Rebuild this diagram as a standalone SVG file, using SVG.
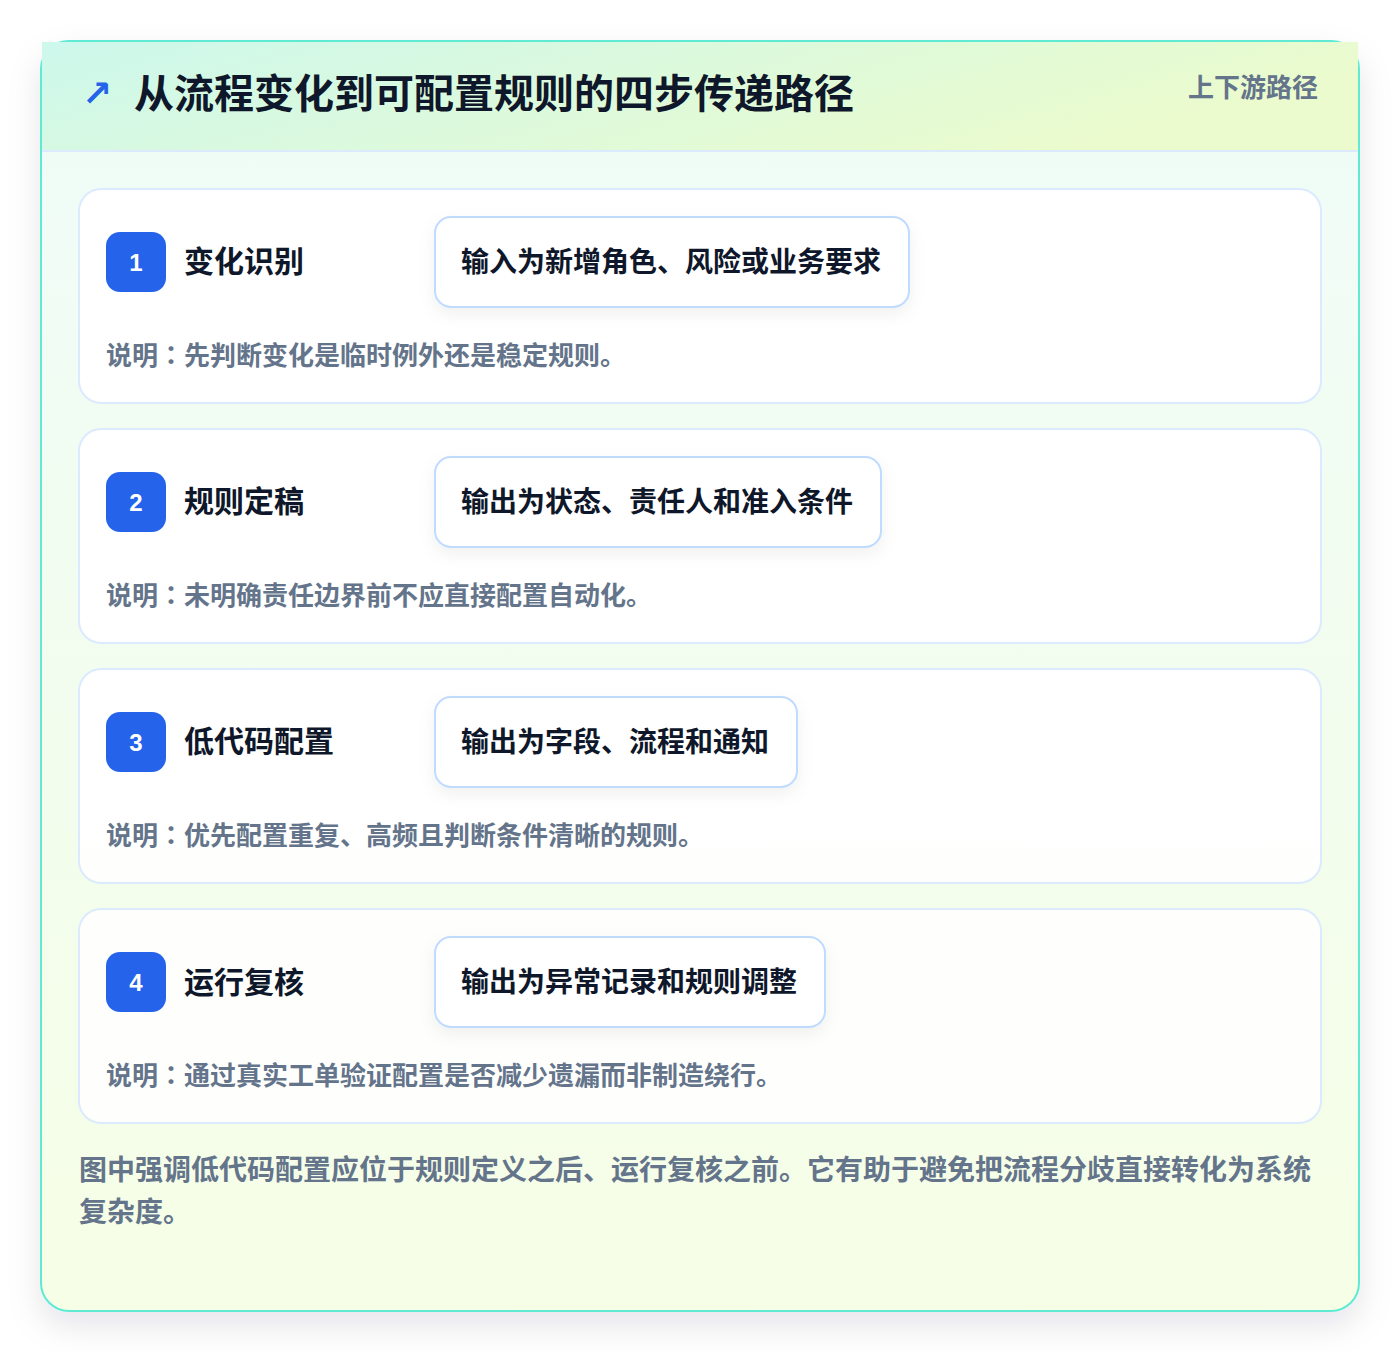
<svg xmlns="http://www.w3.org/2000/svg" width="1400" height="1352" viewBox="0 0 1400 1352">
<defs>
<linearGradient id="bodyG" x1="0" y1="0" x2="0" y2="1">
<stop offset="0" stop-color="#effcf8"/>
<stop offset="1" stop-color="#f6fee6"/>
</linearGradient>
<linearGradient id="headG" x1="0" y1="0" x2="1" y2="0.3">
<stop offset="0" stop-color="#cdf8ec"/>
<stop offset="1" stop-color="#ebfbcd"/>
</linearGradient>
<filter id="outerSh" x="-10%" y="-10%" width="120%" height="120%">
<feDropShadow dx="0" dy="14" stdDeviation="16" flood-color="#0f172a" flood-opacity="0.10"/>
</filter>
<filter id="pillSh" x="-20%" y="-40%" width="140%" height="180%">
<feDropShadow dx="0" dy="6" stdDeviation="8" flood-color="#0f172a" flood-opacity="0.06"/>
</filter>
<style>
text{font-family:"Noto Sans CJK SC","Noto Sans",sans-serif;}
.card{fill:#ffffff;fill-opacity:0.9;stroke:#dbeafe;stroke-width:2;}
.badge{fill:#2563eb;}
.num{fill:#ffffff;font-size:24px;font-weight:700;text-anchor:middle;font-family:"Liberation Sans",sans-serif;}
.ttl{fill:#0f172a;font-size:30px;font-weight:700;}
.pill{fill:#ffffff;stroke:#bfdbfe;stroke-width:2;}
.ptx{fill:#0f172a;font-size:28px;font-weight:700;}
.desc{fill:#64748b;font-size:26px;font-weight:700;}
.colon{font-family:"Noto Sans CJK JP",sans-serif;}
.foot{fill:#64748b;font-size:28px;font-weight:700;}
</style>
</defs>
<rect width="1400" height="1352" fill="#ffffff"/>
<g id="frame">
<rect x="41" y="41" width="1318" height="1270" rx="28" fill="url(#bodyG)" stroke="#5eead4" stroke-width="2" filter="url(#outerSh)"/>
<rect x="42" y="42" width="1316" height="109" fill="url(#headG)"/>
<line x1="42" y1="151" x2="1358" y2="151" stroke="#dbeafe" stroke-width="2"/>
<text x="82" y="106" fill="#2563eb" font-size="36" font-weight="700" style="font-family:'DejaVu Sans',sans-serif">↗</text>
<text x="134" y="108" fill="#0f172a" font-size="40" font-weight="700">从流程变化到可配置规则的四步传递路径</text>
<text x="1318" y="97" fill="#64748b" font-size="26" font-weight="700" text-anchor="end">上下游路径</text>
</g>
<g id="connectors"></g>
<g id="step1">
<rect class="card" x="79" y="189" width="1242" height="214" rx="22"/>
<rect class="badge" x="106" y="232" width="60" height="60" rx="14"/>
<text class="num" x="136" y="271">1</text>
<text class="ttl" x="184" y="272">变化识别</text>
<rect class="pill" x="435" y="217" width="474" height="90" rx="16" filter="url(#pillSh)"/>
<text class="ptx" x="461" y="272">输入为新增角色、风险或业务要求</text>
<text class="desc" x="106" y="365">说明<tspan class="colon">：</tspan>先判断变化是临时例外还是稳定规则。</text>
</g>
<g id="step2">
<rect class="card" x="79" y="429" width="1242" height="214" rx="22"/>
<rect class="badge" x="106" y="472" width="60" height="60" rx="14"/>
<text class="num" x="136" y="511">2</text>
<text class="ttl" x="184" y="512">规则定稿</text>
<rect class="pill" x="435" y="457" width="446" height="90" rx="16" filter="url(#pillSh)"/>
<text class="ptx" x="461" y="512">输出为状态、责任人和准入条件</text>
<text class="desc" x="106" y="605">说明<tspan class="colon">：</tspan>未明确责任边界前不应直接配置自动化。</text>
</g>
<g id="step3">
<rect class="card" x="79" y="669" width="1242" height="214" rx="22"/>
<rect class="badge" x="106" y="712" width="60" height="60" rx="14"/>
<text class="num" x="136" y="751">3</text>
<text class="ttl" x="184" y="752">低代码配置</text>
<rect class="pill" x="435" y="697" width="362" height="90" rx="16" filter="url(#pillSh)"/>
<text class="ptx" x="461" y="752">输出为字段、流程和通知</text>
<text class="desc" x="106" y="845">说明<tspan class="colon">：</tspan>优先配置重复、高频且判断条件清晰的规则。</text>
</g>
<g id="step4">
<rect class="card" x="79" y="909" width="1242" height="214" rx="22"/>
<rect class="badge" x="106" y="952" width="60" height="60" rx="14"/>
<text class="num" x="136" y="991">4</text>
<text class="ttl" x="184" y="993">运行复核</text>
<rect class="pill" x="435" y="937" width="390" height="90" rx="16" filter="url(#pillSh)"/>
<text class="ptx" x="461" y="992">输出为异常记录和规则调整</text>
<text class="desc" x="106" y="1085">说明<tspan class="colon">：</tspan>通过真实工单验证配置是否减少遗漏而非制造绕行。</text>
</g>
<g id="footer">
<text class="foot" x="79" y="1180">图中强调低代码配置应位于规则定义之后、运行复核之前。它有助于避免把流程分歧直接转化为系统</text>
<text class="foot" x="79" y="1222">复杂度。</text>
</g>
</svg>
